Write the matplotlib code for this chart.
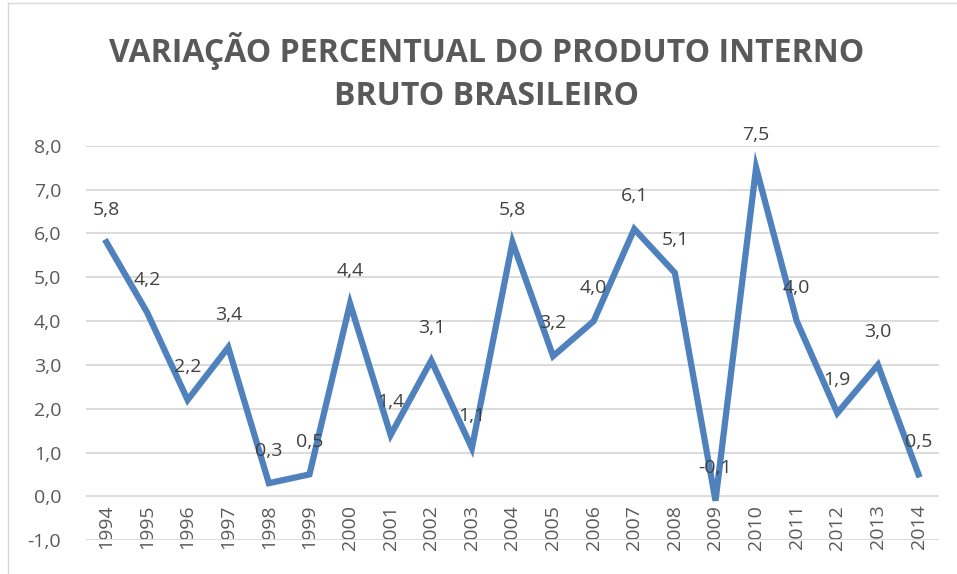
import matplotlib.pyplot as plt
from matplotlib.lines import Line2D
from matplotlib.ticker import FuncFormatter

# data
years = ['1994', '1995', '1996', '1997', '1998', '1999', '2000', '2001', '2002', '2003', '2004',
         '2005', '2006', '2007', '2008', '2009', '2010', '2011', '2012', '2013', '2014']
growth = [5.8, 4.2, 2.2, 3.4, 0.3, 0.5, 4.4, 1.4, 3.1, 1.1, 5.8,
          3.2, 4.0, 6.1, 5.1, -0.1, 7.5, 4.0, 1.9, 3.0, 0.5]
title = 'VARIAÇÃO PERCENTUAL DO PRODUTO INTERNO\nBRUTO BRASILEIRO'

plt.rcParams['font.family'] = ['Open Sans', 'DejaVu Sans']
text_color = '#595959'
line_color = '#4F81BD'

fig = plt.figure(figsize=(9.57, 5.74), dpi=100)
ax = fig.add_axes([0.09, 0.059, 0.891, 0.687])

x = list(range(len(years)))
ax.plot(x, growth, color=line_color, linewidth=4.5, solid_joinstyle='miter', zorder=3)

for xi, v in zip(x, growth):
    ax.annotate(f'{v:.1f}'.replace('.', ','), (xi, v), xytext=(0, 17), textcoords='offset points',
                ha='center', va='bottom', fontsize=14, color='#404040', zorder=4)

# category axis crosses at 0 (set before the tick labels, it resets ticks)
ax.spines['bottom'].set_position(('data', 0))
for s in ax.spines.values():
    s.set_visible(False)

ax.set_xlim(-0.5, len(years) - 0.5)
ax.set_ylim(-1, 8)
ax.set_yticks(range(-1, 9))
ax.yaxis.set_major_formatter(FuncFormatter(lambda v, p: f'{v:.1f}'.replace('.', ',')))
ax.grid(axis='y', color='#D9D9D9', linewidth=1.3, zorder=0)

ax.set_xticks(x)
ax.set_xticklabels(years, rotation=90)
ax.tick_params(axis='both', length=0, labelsize=14, labelcolor=text_color)
ax.tick_params(axis='x', pad=6)
ax.tick_params(axis='y', pad=18)

fig.text(0.508, 0.874, title, ha='center', va='center', fontsize=23, fontweight='bold',
         color=text_color, linespacing=1.4)

# outer chart frame (top and left edges visible)
fig.add_artist(Line2D([0.008, 1.0], [0.994, 0.994], transform=fig.transFigure, color='#D9D9D9', lw=1))
fig.add_artist(Line2D([0.008, 0.008], [0.0, 0.994], transform=fig.transFigure, color='#D9D9D9', lw=1))

fig.savefig('out.png', dpi=100)
